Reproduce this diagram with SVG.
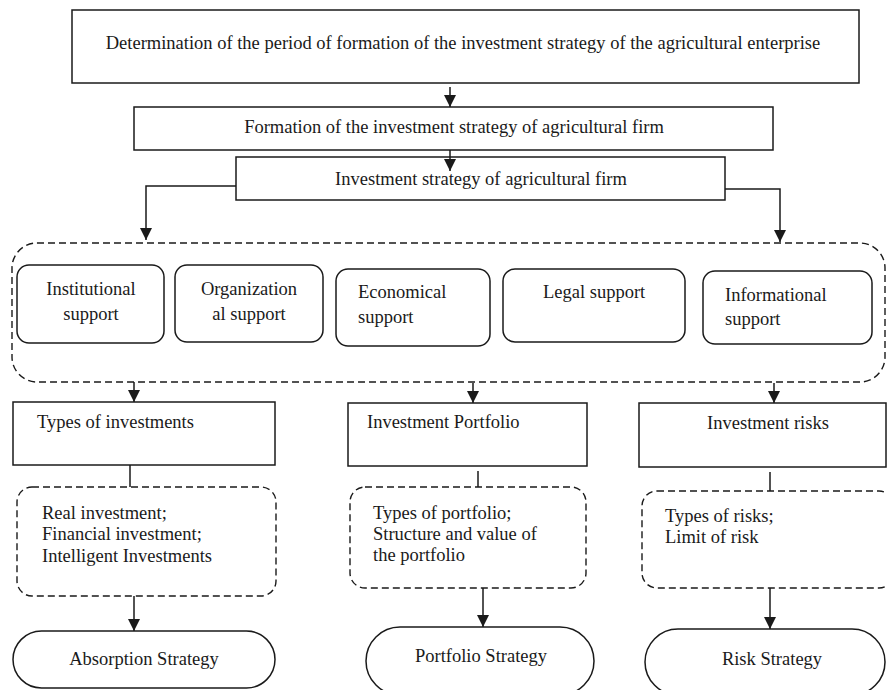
<svg xmlns="http://www.w3.org/2000/svg" width="887" height="690" viewBox="0 0 887 690">
<defs>
<marker id="ah" markerUnits="userSpaceOnUse" markerWidth="12" markerHeight="12" refX="12" refY="6" orient="auto">
<path d="M0,0 L12,6 L0,12 z" fill="#1a1a1a"/>
</marker>
<style>
.box{fill:#fff;stroke:#1a1a1a;stroke-width:1.5}
.dash{fill:none;stroke:#1a1a1a;stroke-width:1.4;stroke-dasharray:7 4}
.con{fill:none;stroke:#1a1a1a;stroke-width:1.5}
text{font-family:"Liberation Serif","Times New Roman",serif;font-size:18.5px;fill:#1a1a1a}
.c{text-anchor:middle}
</style>
</defs>
<rect width="887" height="690" fill="#fff"/>
<g id="connectors">
<path class="con" d="M450,87 V107" marker-end="url(#ah)"/>
<path class="con" d="M236,186 H146 V240" marker-end="url(#ah)"/>
<path class="con" d="M725,189 H780 V242" marker-end="url(#ah)"/>
<path class="con" d="M134,382 V402" marker-end="url(#ah)"/>
<path class="con" d="M473,383 V403" marker-end="url(#ah)"/>
<path class="con" d="M774,383 V403" marker-end="url(#ah)"/>
<path class="con" d="M130,465 V487"/>
<path class="con" d="M478,471 V487"/>
<path class="con" d="M770,472 V491"/>
<path class="con" d="M134,596 V631" marker-end="url(#ah)"/>
<path class="con" d="M483,588 V627" marker-end="url(#ah)"/>
<path class="con" d="M770,588 V629" marker-end="url(#ah)"/>
</g>
<g id="n-determination">
<rect class="box" x="72" y="10" width="787" height="73"/>
<text class="c" x="463" y="49">Determination of the period of formation of the investment strategy of the agricultural enterprise</text>
</g>
<g id="n-formation">
<rect class="box" x="134" y="107" width="639" height="43"/>
<text class="c" x="454" y="133">Formation of the investment strategy of agricultural firm</text>
</g>
<g id="n-strategy">
<rect class="box" x="236" y="157" width="489" height="43"/>
<text class="c" x="481" y="185">Investment strategy of agricultural firm</text>
</g>
<g id="arrow2">
<path class="con" d="M450,150 V171" marker-end="url(#ah)"/>
</g>
<g id="n-support-group">
<rect class="dash" x="12" y="243" width="873" height="139" rx="25"/>
</g>
<g id="n-institutional">
<rect class="box" x="17" y="265" width="147" height="78" rx="12"/>
<text class="c" x="91" y="295">Institutional</text>
<text class="c" x="91" y="320">support</text>
</g>
<g id="n-organizational">
<rect class="box" x="175" y="265" width="148" height="77" rx="12"/>
<text class="c" x="249" y="295">Organization</text>
<text class="c" x="249" y="320">al support</text>
</g>
<g id="n-economical">
<rect class="box" x="336" y="269" width="154" height="77" rx="12"/>
<text x="358" y="298">Economical</text>
<text x="358" y="323">support</text>
</g>
<g id="n-legal">
<rect class="box" x="503" y="269" width="182" height="73" rx="12"/>
<text x="543" y="298">Legal support</text>
</g>
<g id="n-informational">
<rect class="box" x="703" y="271" width="169" height="73" rx="12"/>
<text x="725" y="301">Informational</text>
<text x="725" y="325">support</text>
</g>
<g id="n-types">
<rect class="box" x="13" y="402" width="262" height="63"/>
<text x="37" y="428">Types of investments</text>
</g>
<g id="n-portfolio">
<rect class="box" x="348" y="403" width="239" height="63"/>
<text x="367" y="428">Investment Portfolio</text>
</g>
<g id="n-risks">
<rect class="box" x="639" y="403" width="247" height="64"/>
<text class="c" x="768" y="429">Investment risks</text>
</g>
<g id="n-types-detail">
<rect class="dash" x="17" y="487" width="259" height="109" rx="15"/>
<text x="42" y="519">Real investment;</text>
<text x="42" y="540">Financial investment;</text>
<text x="42" y="562">Intelligent Investments</text>
</g>
<g id="n-portfolio-detail">
<rect class="dash" x="350" y="487" width="236" height="101" rx="15"/>
<text x="373" y="519">Types of portfolio;</text>
<text x="373" y="540">Structure and value of</text>
<text x="373" y="561">the portfolio</text>
</g>
<g id="n-risks-detail">
<rect class="dash" x="642" y="491" width="252" height="97" rx="15"/>
<text x="665" y="522">Types of risks;</text>
<text x="665" y="543">Limit of risk</text>
</g>
<g id="n-absorption">
<rect class="box" x="13" y="631" width="262" height="57" rx="28.5"/>
<text class="c" x="144" y="665">Absorption Strategy</text>
</g>
<g id="n-portfolio-strategy">
<rect class="box" x="366" y="627" width="228" height="68" rx="34"/>
<text class="c" x="481" y="662">Portfolio Strategy</text>
</g>
<g id="n-risk-strategy">
<rect class="box" x="645" y="629" width="240" height="66" rx="33"/>
<text class="c" x="772" y="665">Risk Strategy</text>
</g>
</svg>
